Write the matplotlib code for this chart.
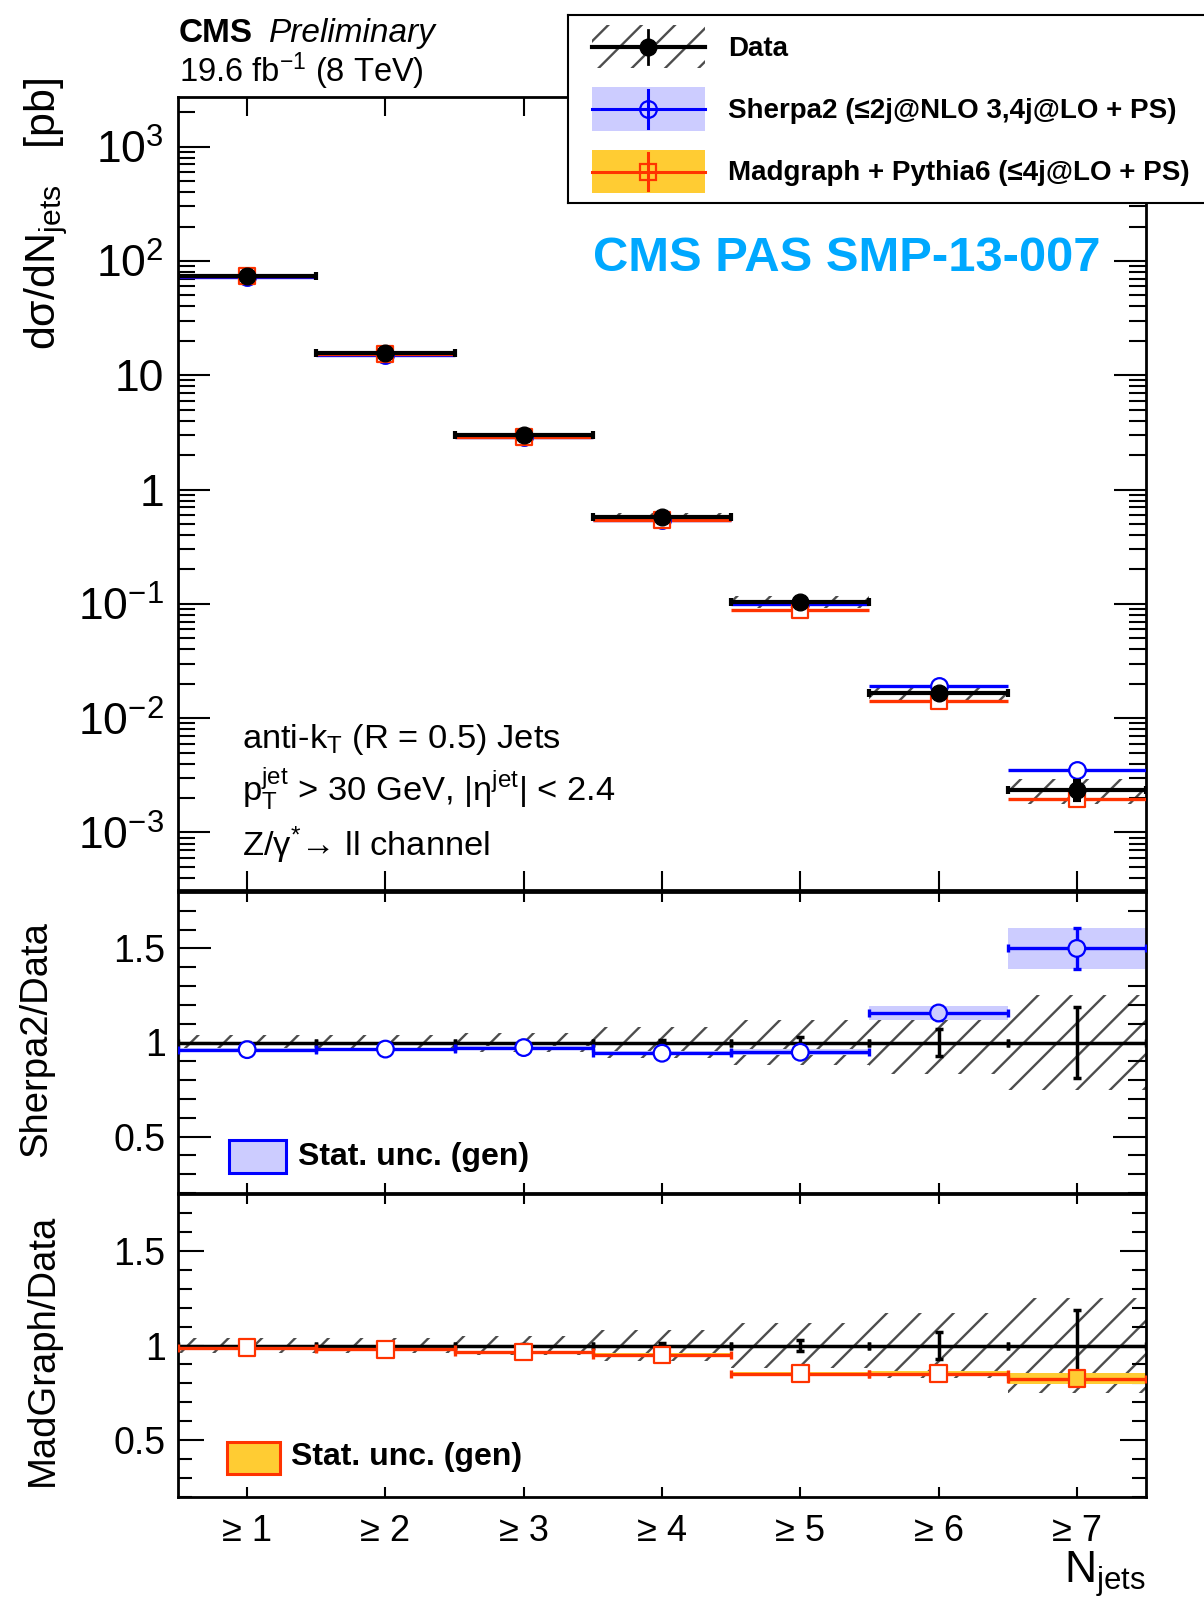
import numpy as np
import matplotlib
matplotlib.use("Agg")
import matplotlib.pyplot as plt
from matplotlib.patches import Rectangle
from matplotlib.lines import Line2D
from matplotlib.ticker import LogLocator, MultipleLocator, NullFormatter, NullLocator

plt.rcParams['font.family'] = ['Liberation Sans', 'DejaVu Sans']
plt.rcParams['mathtext.fontset'] = 'custom'
plt.rcParams['mathtext.rm'] = 'Liberation Sans'
plt.rcParams['mathtext.it'] = 'Liberation Sans:italic'
plt.rcParams['mathtext.bf'] = 'Liberation Sans:bold'
plt.rcParams['mathtext.default'] = 'regular'
plt.rcParams['hatch.linewidth'] = 1.7
plt.rcParams['axes.linewidth'] = 2.0

# values
njets = np.array([1, 2, 3, 4, 5, 6, 7])
njets_labels = ['≥ 1', '≥ 2', '≥ 3', '≥ 4', '≥ 5', '≥ 6', '≥ 7']

data_xsec = np.array([74.6, 15.6, 2.98, 0.573, 0.1045, 0.0166, 0.00236])  # pb
data_stat = np.array([0.003, 0.005, 0.008, 0.012, 0.03, 0.07, 0.19])     # relative
data_tot = np.array([0.04, 0.04, 0.05, 0.08, 0.12, 0.17, 0.25])          # relative

sherpa_ratio = np.array([0.962, 0.965, 0.973, 0.943, 0.948, 1.157, 1.50])
sherpa_stat = np.array([0.008, 0.008, 0.01, 0.012, 0.016, 0.038, 0.11])
madgraph_ratio = np.array([0.989, 0.98, 0.965, 0.95, 0.852, 0.852, 0.825])
madgraph_stat = np.array([0.004, 0.005, 0.006, 0.008, 0.01, 0.015, 0.03])

# colours
HATCH = '#4d4d4d'
SHERPA = '#0000ff'
SHERPA_BAND = '#ccccff'
MG = '#ff3300'
MG_BAND = '#ffcc33'
PAS_BLUE = '#00a8ff'

W_PX, H_PX = 1204, 1603


def fx(px):
    return px / W_PX


def fy(py):
    return 1 - py / H_PX


fig = plt.figure(figsize=(W_PX / 100, H_PX / 100), dpi=100)

ax_top = fig.add_axes([fx(178), fy(890), fx(1146) - fx(178), (890 - 96.7) / H_PX])
ax_sh = fig.add_axes([fx(178), fy(1193), fx(1146) - fx(178), (1193 - 892) / H_PX])
ax_mg = fig.add_axes([fx(178), fy(1497), fx(1146) - fx(178), (1497 - 1194) / H_PX])


def hatch_band(ax, y, half):
    ax.bar(njets, 2 * half, bottom=y - half, width=1.0, fill=False, hatch='/',
           edgecolor=HATCH, linewidth=0, zorder=1)


def fill_band(ax, y, half, color):
    ax.bar(njets, 2 * half, bottom=y - half, width=1.0, color=color,
           linewidth=0, zorder=2)


def mc_points(ax, y, yerr, col, marker, faces, zorder, caps):
    # ROOT style: lines stop at the hollow marker, so draw the marker on top
    ax.errorbar(njets, y, xerr=0.5, yerr=yerr, fmt='none', ecolor=col,
                elinewidth=2.4, capsize=caps, capthick=2.4, zorder=zorder)
    ax.scatter(njets, y, s=12 ** 2, marker=marker, facecolors=faces,
               edgecolors=col, linewidths=1.6, zorder=zorder + 0.5)


# ---- main panel ----
sherpa_xs = data_xsec * sherpa_ratio
madgraph_xs = data_xsec * madgraph_ratio

hatch_band(ax_top, data_xsec, data_xsec * data_tot)
mc_points(ax_top, sherpa_xs, sherpa_xs * sherpa_stat, SHERPA, 'o', 'white', 3, 0)
mc_points(ax_top, madgraph_xs, madgraph_xs * madgraph_stat, MG, 's', 'white', 3, 0)
ax_top.errorbar(njets, data_xsec, xerr=0.5, yerr=data_xsec * data_stat, fmt='o',
                ms=12, color='black', elinewidth=3, capsize=3, capthick=3, zorder=5)

ax_top.set_yscale('log')
ax_top.set_ylim(3.14e-4, 2735)
ax_top.set_xlim(0.5, 7.5)
ax_top.set_yticks([1e-3, 1e-2, 1e-1, 1, 10, 1e2, 1e3])
ax_top.set_yticklabels(['$10^{-3}$', '$10^{-2}$', '$10^{-1}$', '1', '10',
                        '$10^{2}$', '$10^{3}$'])
ax_top.yaxis.set_minor_locator(LogLocator(base=10, subs=np.arange(2, 10), numticks=30))
ax_top.yaxis.set_minor_formatter(NullFormatter())
ax_top.set_xticks(njets)
ax_top.xaxis.set_minor_locator(NullLocator())
ax_top.tick_params(axis='y', which='major', direction='in', length=23, width=1.5,
                   left=True, right=True, labelsize=32, pad=10)
ax_top.tick_params(axis='y', which='minor', direction='in', length=12, width=1.5,
                   left=True, right=True)
ax_top.tick_params(axis='x', which='major', direction='in', length=14, width=1.5,
                   top=True, bottom=True, labelbottom=False)


# ---- ratio panels ----
def ratio_panel(ax, ratio, stat, line_col, band_col, marker, tick_long, tick_short):
    hatch_band(ax, np.ones_like(data_tot), data_tot)
    fill_band(ax, ratio, stat, band_col)
    ax.errorbar(njets, np.ones_like(data_stat), xerr=0.5, yerr=data_stat, fmt='none',
                ecolor='black', elinewidth=2.5, capsize=3, capthick=2.5, zorder=3)
    faces = [band_col if s >= 0.03 else 'white' for s in stat]
    mc_points(ax, ratio, stat, line_col, marker, faces, 4, 3)
    ax.set_xlim(0.5, 7.5)
    ax.set_ylim(0.2, 1.8)
    ax.set_yticks([0.5, 1.0, 1.5])
    ax.set_yticklabels(['0.5', '1', '1.5'])
    ax.yaxis.set_minor_locator(MultipleLocator(0.1))
    ax.set_xticks(njets)
    ax.xaxis.set_minor_locator(NullLocator())
    ax.tick_params(axis='y', which='major', direction='in', length=tick_long, width=1.5,
                   left=True, right=True, labelsize=27, pad=9)
    ax.tick_params(axis='y', which='minor', direction='in', length=tick_short, width=1.5,
                   left=True, right=True)
    ax.tick_params(axis='x', which='major', direction='in', length=7, width=1.5,
                   top=True, bottom=True)


ratio_panel(ax_sh, sherpa_ratio, sherpa_stat, SHERPA, SHERPA_BAND, 'o', 24, 13)
ratio_panel(ax_mg, madgraph_ratio, madgraph_stat, MG, MG_BAND, 's', 19, 10)
ax_sh.tick_params(axis='x', labelbottom=False)
ax_mg.set_xticklabels(njets_labels)
ax_mg.tick_params(axis='x', labelsize=26, pad=12)

# axis titles
fig.text(fx(22), fy(78), 'dσ/dN$_{jets}$   [pb]', rotation=90, ha='left', va='top',
         fontsize=31)
fig.text(fx(18), fy(921), 'Sherpa2/Data', rotation=90, ha='left', va='top', fontsize=27.5)
fig.text(fx(25), fy(1214), 'MadGraph/Data', rotation=90, ha='left', va='top', fontsize=27.5)
fig.text(fx(1146), fy(1583), 'N$_{jets}$', ha='right', va='baseline', fontsize=32)

# header texts
fig.text(fx(179), fy(42), 'CMS', fontsize=24, fontweight='bold', va='baseline')
fig.text(fx(269), fy(42), 'Preliminary', fontsize=24, style='italic', va='baseline')
fig.text(fx(179), fy(82), '19.6 fb$^{-1}$ (8 TeV)', fontsize=23.5, va='baseline')
fig.text(fx(593), fy(271), 'CMS PAS SMP-13-007', fontsize=35.3, fontweight='bold',
         color=PAS_BLUE, va='baseline')

# selection texts
fig.text(fx(242), fy(748), 'anti-k$_{T}$ (R = 0.5) Jets', fontsize=24.8, va='baseline')
fig.text(fx(242), fy(801), '$p_{T}^{jet}$ > 30 GeV, |$η^{jet}$| < 2.4', fontsize=24.8,
         va='baseline')
fig.text(fx(242), fy(856), 'Z/$γ^{*}$→ ll channel', fontsize=24.8, va='baseline')

# ---- main legend (box drawn in pixel-like coordinates) ----
lax = fig.add_axes([fx(568), fy(203), (1230 - 568) / W_PX, (203 - 15) / H_PX])
lax.set_xlim(568, 1230)
lax.set_ylim(203, 15)
lax.set_xticks([])
lax.set_yticks([])
for sp in lax.spines.values():
    sp.set_linewidth(1.5)

lax.add_patch(Rectangle((592, 25), 113, 43, fill=False, hatch='/', edgecolor=HATCH,
                        linewidth=0))
lax.add_line(Line2D([592, 705], [46.7, 46.7], color='black', lw=3))
lax.add_line(Line2D([648, 648], [30, 64], color='black', lw=2))
lax.plot([648], [46.7], 'o', ms=12, color='black')

lax.add_patch(Rectangle((592, 87), 113, 44, facecolor=SHERPA_BAND, linewidth=0))
lax.add_line(Line2D([592, 705], [108.7, 108.7], color=SHERPA, lw=2.2))
lax.add_line(Line2D([648, 648], [90, 128], color=SHERPA, lw=2.2))
lax.plot([648], [108.7], 'o', ms=12, mfc='none', mec=SHERPA, mew=1.6)

lax.add_patch(Rectangle((592, 150), 113, 43, facecolor=MG_BAND, linewidth=0))
lax.add_line(Line2D([592, 705], [171.7, 171.7], color=MG, lw=2.2))
lax.add_line(Line2D([648, 648], [153, 190], color=MG, lw=2.2))
lax.plot([648], [171.7], 's', ms=12, mfc='none', mec=MG, mew=1.6)

lax.text(728, 55.7, 'Data', fontsize=20, fontweight='bold', va='baseline')
lax.text(728, 117.5, 'Sherpa2 (≤2j@NLO 3,4j@LO + PS)', fontsize=20,
         fontweight='bold', va='baseline')
lax.text(728, 180, 'Madgraph + Pythia6 (≤4j@LO + PS)', fontsize=20,
         fontweight='bold', va='baseline')

# ---- ratio legends ----
fig.add_artist(Rectangle((fx(229), fy(1173)), (286 - 229) / W_PX, (1173 - 1140) / H_PX,
                         facecolor=SHERPA_BAND, edgecolor=SHERPA, lw=2.2,
                         transform=fig.transFigure))
fig.text(fx(298), fy(1165), 'Stat. unc. (gen)', fontsize=23, fontweight='bold',
         va='baseline')
fig.add_artist(Rectangle((fx(227), fy(1474)), (280 - 227) / W_PX, (1474 - 1442) / H_PX,
                         facecolor=MG_BAND, edgecolor=MG, lw=2.2,
                         transform=fig.transFigure))
fig.text(fx(291), fy(1465), 'Stat. unc. (gen)', fontsize=23, fontweight='bold',
         va='baseline')

fig.savefig('out.png', dpi=100)
